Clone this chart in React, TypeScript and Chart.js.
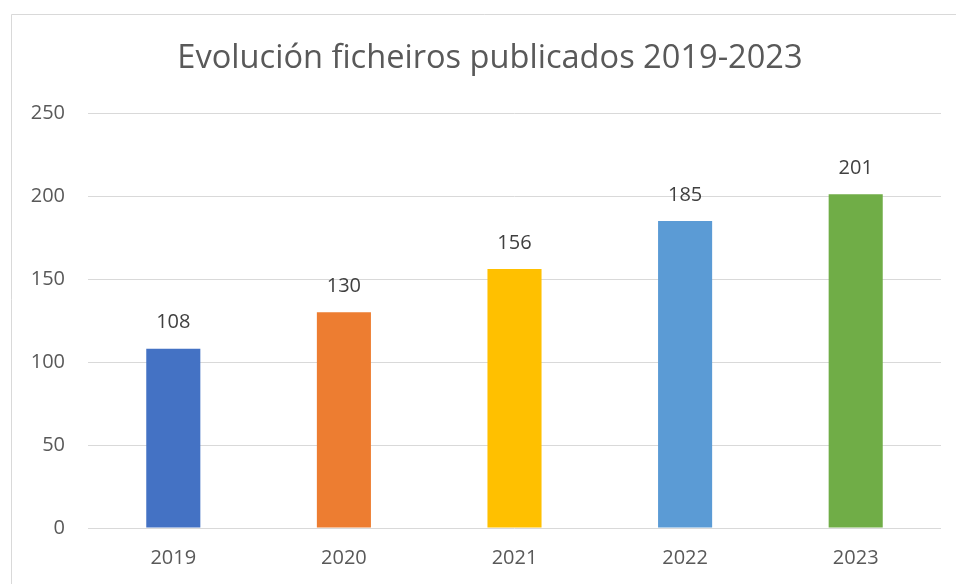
import React, { useEffect, useRef } from "react";
import { Chart, registerables } from "chart.js";

Chart.register(...registerables);

const titleText = "Evolución ficheiros publicados 2019-2023";
const years = ["2019", "2020", "2021", "2022", "2023"];
const values = [108, 130, 156, 185, 201];
const barColors = ["#4472C4", "#ED7D31", "#FFC000", "#5B9BD5", "#70AD47"];
const yTicks = [0, 50, 100, 150, 200, 250];

const FONT = "'Open Sans', 'Noto Sans', sans-serif";

const framePlugin = {
  id: "frame",
  beforeDraw(chart: any) {
    const { ctx, width, height } = chart;
    ctx.save();
    ctx.fillStyle = "#ffffff";
    ctx.fillRect(0, 0, width, height);
    ctx.strokeStyle = "#d9d9d9";
    ctx.lineWidth = 1;
    ctx.beginPath();
    ctx.moveTo(11.5, height + 2);
    ctx.lineTo(11.5, 14.5);
    ctx.lineTo(width + 2, 14.5);
    ctx.stroke();
    ctx.font = `32.6px ${FONT}`;
    ctx.fillStyle = "#595959";
    ctx.textAlign = "center";
    ctx.textBaseline = "middle";
    ctx.fillText(titleText, 490, 59);
    ctx.restore();
  },
};

const labelPlugin = {
  id: "valueLabels",
  afterDatasetsDraw(chart: any) {
    const { ctx } = chart;
    const meta = chart.getDatasetMeta(0);
    ctx.save();
    ctx.font = `20px ${FONT}`;
    ctx.fillStyle = "#404040";
    ctx.textAlign = "center";
    ctx.textBaseline = "middle";
    meta.data.forEach((bar: any, i: number) => {
      ctx.fillText(String(chart.data.datasets[0].data[i]), bar.x, bar.y - 26);
    });
    ctx.restore();
  },
};

export default function App() {
  const ref = useRef<HTMLCanvasElement>(null);
  useEffect(() => {
    if (!ref.current) return;
    const chart = new Chart(ref.current, {
      type: "bar",
      data: {
        labels: years,
        datasets: [
          {
            data: values,
            backgroundColor: barColors,
            borderWidth: 0,
            categoryPercentage: 1,
            barPercentage: 0.317,
          },
        ],
      },
      options: {
        animation: false,
        responsive: false,
        layout: { padding: { left: 0, right: 15, top: 113, bottom: 0 } },
        plugins: {
          legend: { display: false },
          tooltip: { enabled: false },
          title: { display: false },
        },
        scales: {
          x: {
            grid: { display: false },
            border: { display: false },
            ticks: {
              color: "#595959",
              font: { family: FONT, size: 20 },
              padding: 10,
            },
            afterFit(scale: any) {
              scale.height = 56;
            },
          },
          y: {
            min: 0,
            max: 250,
            afterBuildTicks(scale: any) {
              scale.ticks = yTicks.map((v) => ({ value: v }));
            },
            grid: { color: "#d9d9d9", lineWidth: 1, drawTicks: false },
            border: { display: false },
            ticks: {
              color: "#595959",
              font: { family: FONT, size: 20 },
              padding: 23,
            },
            afterFit(scale: any) {
              scale.width = 88;
            },
          },
        },
      },
      plugins: [framePlugin, labelPlugin],
    });
    return () => chart.destroy();
  }, []);
  return (
    <div style={{ position: "fixed", left: 0, top: 0, width: 956, height: 584 }}>
      <canvas ref={ref} width={956} height={584} style={{ width: 956, height: 584 }} />
    </div>
  );
}
